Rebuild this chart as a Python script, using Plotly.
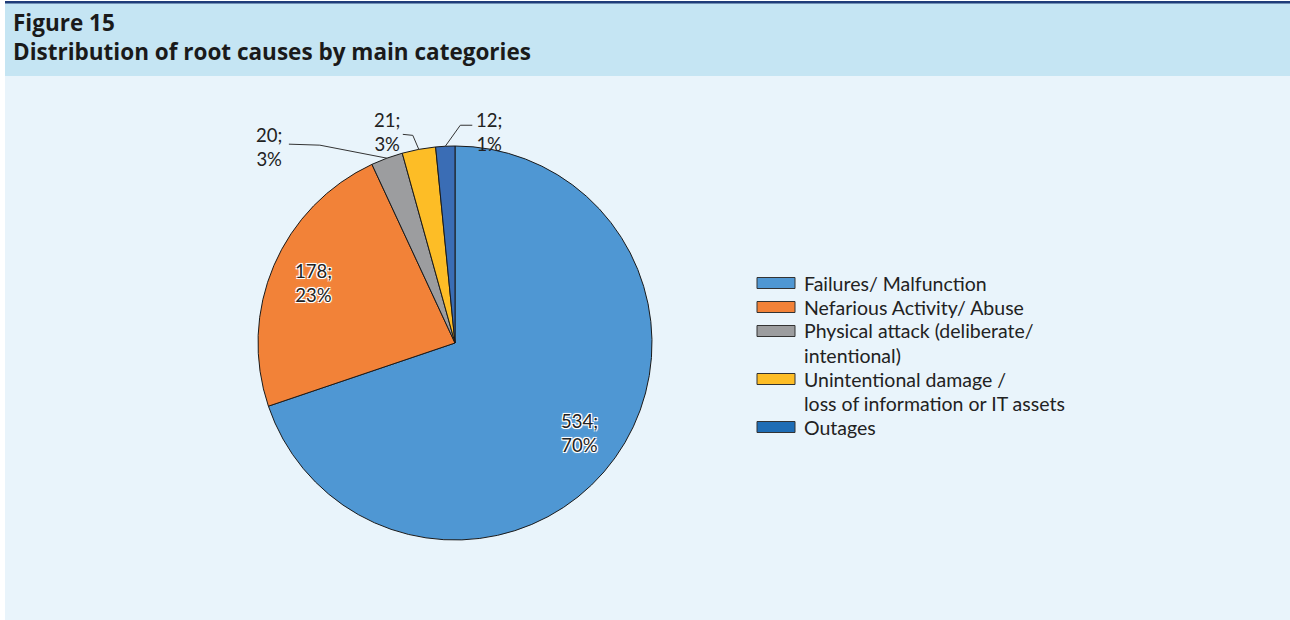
import numpy as np
import plotly.graph_objects as go

# ---- data ----
categories = [
    "Failures/ Malfunction",
    "Nefarious Activity/ Abuse",
    "Physical attack (deliberate/<br>intentional)",
    "Unintentional damage /<br>loss of information or IT assets",
    "Outages",
]
counts = [534, 178, 20, 21, 12]
pct_labels = ["70%", "23%", "3%", "3%", "1%"]
colors = ["#4f97d3", "#f28238", "#9c9d9f", "#fdbd26", "#3a6db5"]
legend_colors = ["#4f97d3", "#f28238", "#9c9d9f", "#fdbd26", "#1f6db5"]

# ---- layout constants ----
W, H = 1290, 620
cx, cy, R = 455, 343, 197
FONT = "Lato"

def paper(x, y):
    return x / W, 1 - y / H

fig = go.Figure()
fig.add_trace(go.Pie(
    labels=[c.replace("<br>", " ") for c in categories],
    values=counts,
    marker=dict(colors=colors, line=dict(color="#1a1a1a", width=1)),
    sort=False,
    direction="clockwise",
    rotation=0,
    textinfo="none",
    hoverinfo="label+value+percent",
    showlegend=False,
    domain=dict(x=[(cx - R) / W, (cx + R) / W],
                y=[(H - cy - R) / H, (H - cy + R) / H]),
))

# angles from data
vals = np.array(counts, dtype=float)
total = vals.sum()
start = np.cumsum(vals) - vals
mid = np.deg2rad((start + vals / 2) / total * 360.0)

annotations = []
shapes = []

# background header and body
shapes.append(dict(type="rect", xref="paper", yref="paper", x0=0, x1=1,
                   y0=1 - 76 / H, y1=1, fillcolor="#c5e5f3", line=dict(width=0), layer="below"))
shapes.append(dict(type="rect", xref="paper", yref="paper", x0=0, x1=1,
                   y0=1 - 3.5 / H, y1=1 - 1 / H, fillcolor="#1f3c78", line=dict(width=0), layer="below"))
shapes.append(dict(type="rect", xref="paper", yref="paper", x0=0, x1=1,
                   y0=1 - 1 / H, y1=1, fillcolor="#ffffff", line=dict(width=0), layer="below"))
shapes.append(dict(type="rect", xref="paper", yref="paper", x0=0, x1=5 / W,
                   y0=0, y1=1, fillcolor="#ffffff", line=dict(width=0), layer="below"))

outline = "-1px -1px 0 #fff, 1px -1px 0 #fff, -1px 1px 0 #fff, 1px 1px 0 #fff, 0 0 3px #fff"

# inside labels (large slices)
for i in [0, 1]:
    r = 0.78 * R
    x, y = paper(cx + r * np.sin(mid[i]), cy - r * np.cos(mid[i]))
    annotations.append(dict(
        x=x, y=y, xref="paper", yref="paper", showarrow=False,
        xanchor="center", yanchor="middle",
        text=f"{counts[i]};<br>{pct_labels[i]}",
        font=dict(family=FONT, size=18.5, color="#222222", shadow=outline),
        align="center",
    ))

# outside labels with elbow leader lines (small slices)
# offsets relative to slice edge point: text centre, elbow, line end
leader = {
    2: dict(text=(-118, -11), elbow=(-67, -13), end=(-98, -14)),
    3: dict(text=(-32, -17), elbow=(-6, -14), end=(-16, -15)),
    4: dict(text=(44, -14), elbow=(15, -21), end=(27, -21)),
}
for i, o in leader.items():
    ex = cx + R * np.sin(mid[i])
    ey = cy - R * np.cos(mid[i])
    pts = [(ex, ey), (ex + o["elbow"][0], ey + o["elbow"][1]), (ex + o["end"][0], ey + o["end"][1])]
    pp = [paper(*p) for p in pts]
    path = "M {} {} L {} {} L {} {}".format(*[v for p in pp for v in p])
    shapes.append(dict(type="path", xref="paper", yref="paper", path=path,
                       line=dict(color="#333333", width=1)))
    tx, ty = paper(ex + o["text"][0], ey + o["text"][1])
    annotations.append(dict(
        x=tx, y=ty, xref="paper", yref="paper", showarrow=False,
        xanchor="center", yanchor="middle",
        text=f"{counts[i]};<br>{pct_labels[i]}",
        font=dict(family=FONT, size=18.5, color="#222222"),
        align="center",
    ))

# title
annotations.append(dict(x=11 / W, y=1 - 22 / H, xref="paper", yref="paper",
                        xanchor="left", yanchor="middle", showarrow=False,
                        text="<b>Figure 15</b>",
                        font=dict(family="Open Sans", size=22.5, color="#1a1a1a")))
annotations.append(dict(x=11 / W, y=1 - 52 / H, xref="paper", yref="paper",
                        xanchor="left", yanchor="middle", showarrow=False,
                        text="<b>Distribution of root causes by main categories</b>",
                        font=dict(family="Open Sans", size=22.5, color="#1a1a1a")))

# custom legend
line_h = 24
ycur = 283
for i, cat in enumerate(categories):
    lines = cat.split("<br>")
    shapes.append(dict(type="rect", xref="paper", yref="paper",
                       x0=757 / W, x1=795 / W,
                       y0=1 - (ycur + 5.5) / H, y1=1 - (ycur - 5.5) / H,
                       fillcolor=legend_colors[i], line=dict(color="#333333", width=1)))
    for ln in lines:
        annotations.append(dict(x=802 / W, y=1 - ycur / H,
                                xref="paper", yref="paper", xanchor="left", yanchor="middle",
                                showarrow=False, align="left", text=ln,
                                font=dict(family=FONT, size=19.5, color="#222222")))
        ycur += line_h

fig.update_layout(
    width=W, height=H,
    margin=dict(l=0, r=0, t=0, b=0),
    paper_bgcolor="#e9f4fb",
    plot_bgcolor="#e9f4fb",
    shapes=shapes,
    annotations=annotations,
    showlegend=False,
)

fig.write_html("out.html", config={"displayModeBar": False},
               post_script="document.body.style.margin='0';")
